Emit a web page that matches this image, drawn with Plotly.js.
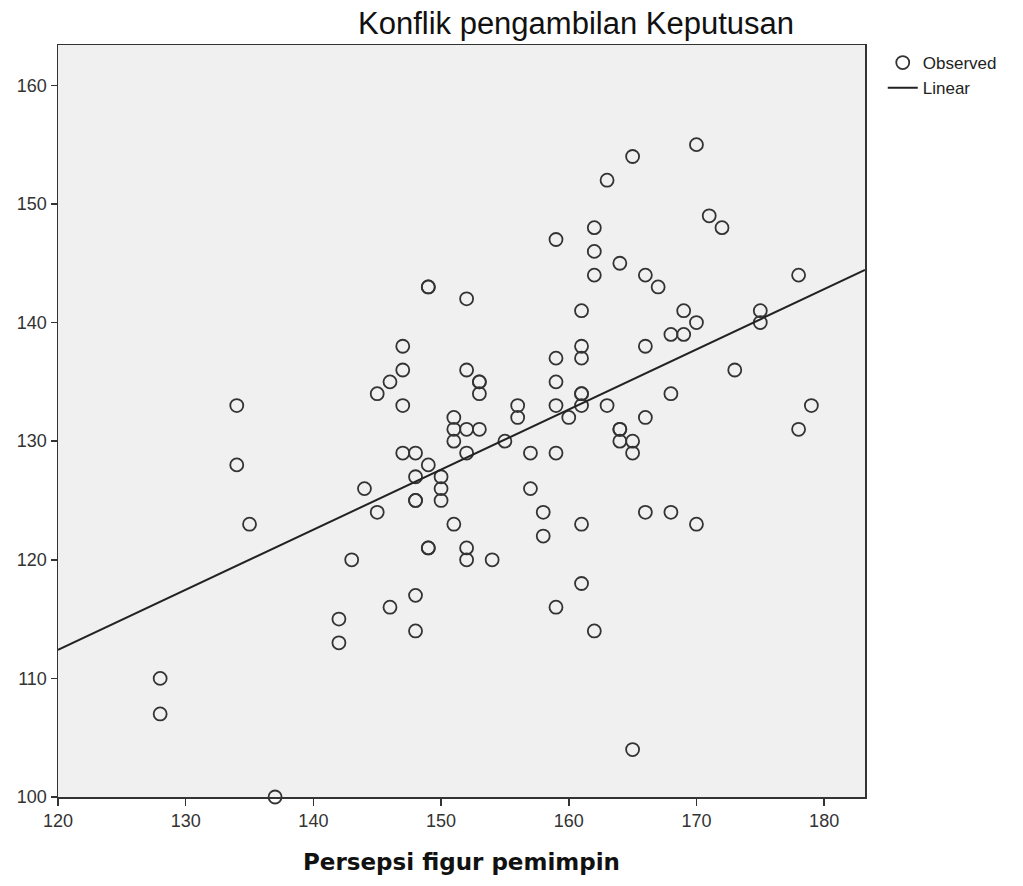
<!DOCTYPE html>
<html>
<head>
<meta charset="utf-8">
<script src="https://cdn.plot.ly/plotly-3.0.1.min.js"></script>
<style>html,body{margin:0;padding:0;background:#fff}#chart{width:1023px;height:886px}</style>
</head>
<body>
<div id="chart"></div>
<script>
// Persepsi figur pemimpin (x) and Konflik pengambilan Keputusan (y)
const persepsi = [128,128,134,134,135,137,142,142,143,144,145,145,146,146,
  147,147,147,147,148,148,148,148,148,148,149,149,149,149,149,
  150,150,150,151,151,151,151,152,152,152,152,152,152,153,153,153,153,
  154,155,156,156,157,157,158,158,159,159,159,159,159,159,160,
  161,161,161,161,161,161,161,161,162,162,162,162,163,163,
  164,164,164,164,165,165,165,165,166,166,166,166,167,168,168,168,
  169,169,170,170,170,171,172,173,175,175,178,178,179];
const konflik = [110,107,133,128,123,100,115,113,120,126,134,124,135,116,
  138,136,133,129,129,127,125,125,117,114,143,143,128,121,121,
  127,126,125,132,131,130,123,142,136,131,129,121,120,135,135,134,131,
  120,130,133,132,129,126,124,122,147,137,135,133,129,116,132,
  141,138,137,134,134,133,123,118,148,146,144,114,152,133,
  145,131,131,130,154,130,129,104,144,138,132,124,143,139,134,124,
  141,139,155,140,123,149,148,136,141,140,144,131,133];

const xTicks = [120,130,140,150,160,170,180];
const yTicks = [100,110,120,130,140,150,160];
const xRange = [120, 183.2];
const yRange = [100, 163.4];

// least-squares linear fit
const n = persepsi.length;
const mx = persepsi.reduce((a,b)=>a+b,0)/n;
const my = konflik.reduce((a,b)=>a+b,0)/n;
let sxy=0, sxx=0;
for (let i=0;i<n;i++){ sxy += (persepsi[i]-mx)*(konflik[i]-my); sxx += (persepsi[i]-mx)**2; }
const slope = sxy/sxx, intercept = my - slope*mx;
const fitX = xRange.slice();
const fitY = fitX.map(v => intercept + slope*v);

const traces = [
  {x: persepsi, y: konflik, type:'scatter', mode:'markers', name:'Observed',
   marker:{symbol:'circle-open', size:13, color:'#333', line:{width:1.8, color:'#333'}},
   cliponaxis:false},
  {x: fitX, y: fitY, type:'scatter', mode:'lines', name:'Linear',
   line:{color:'#222', width:2}}
];

const font = 'Liberation Sans, Arial, sans-serif';
const layout = {
  width:1023, height:886,
  margin:{l:58, r:158, t:45, b:89},
  paper_bgcolor:'#ffffff', plot_bgcolor:'#f0f0f0',
  showlegend:true,
  title:{text:'Konflik pengambilan Keputusan', font:{family:font, size:31, color:'#111'},
         x:576/1023, xanchor:'center', xref:'container', y:1-23/886, yanchor:'middle', yref:'container'},
  legend:{x:1.022, xanchor:'left', y:1.0, yanchor:'top', font:{family:font, size:17, color:'#222'},
          bgcolor:'rgba(0,0,0,0)', tracegroupgap:0, itemwidth:30},
  xaxis:{range:xRange, tickvals:xTicks, ticktext:xTicks.map(String), ticks:'outside', ticklen:7,
         tickcolor:'#333', tickwidth:1.5, showgrid:false, zeroline:false, showline:true, linecolor:'#333',
         linewidth:1.5, mirror:true, tickfont:{family:font, size:18, color:'#333'},
         title:{text:'Persepsi figur pemimpin', font:{family:'DejaVu Sans, sans-serif', size:23, color:'#111', weight:'bold'}, standoff:24}},
  yaxis:{range:yRange, tickvals:yTicks, ticktext:yTicks.map(String), ticks:'outside', ticklen:6,
         tickcolor:'#333', tickwidth:1.5, showgrid:false, zeroline:false, showline:true, linecolor:'#333',
         linewidth:1.5, mirror:true, tickfont:{family:font, size:18, color:'#333'}}
};
Plotly.newPlot('chart', traces, layout, {displayModeBar:false, staticPlot:true});
</script>
</body>
</html>
